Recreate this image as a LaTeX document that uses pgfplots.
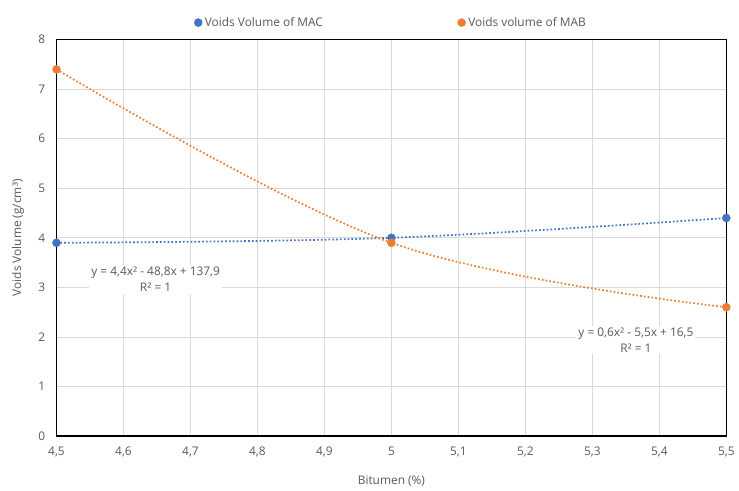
\documentclass[border=0pt]{standalone}
\usepackage{pgfplots}
\pgfplotsset{compat=1.18}
\usepackage{fontspec}
\setmainfont{Open Sans}
\definecolor{macblue}{HTML}{4472C4}
\definecolor{maborange}{HTML}{ED7D31}
\definecolor{txtgray}{HTML}{595959}
\definecolor{gridgray}{HTML}{D9D9D9}
\begin{document}
\begin{tikzpicture}[x=1pt,y=1pt]
% invisible frame to fix the canvas size (739x495 px at 0.75pt/px)
\path (-42.75,-41.25) rectangle (511.5,330);
\begin{axis}[
  at={(0,0)}, anchor=south west,
  scale only axis,
  width=507pt, height=300pt,
  xmin=4.5, xmax=5.5, ymin=0, ymax=8,
  xtick distance=0.1, ytick distance=1,
  grid=major,
  major grid style={gridgray, line width=0.6pt},
  axis line style={black, line width=0.8pt},
  tick style={draw=none},
  ticklabel style={font=\fontsize{9}{11}\selectfont, text=txtgray},
  xticklabel style={yshift=-5pt},
  yticklabel style={xshift=-5pt},
  /pgf/number format/.cd, use comma, fixed, precision=1, assume math mode=true,
  /pgfplots/.cd,
  xlabel={Bitumen (\%)},
  ylabel={Voids Volume (g/cm³)},
  label style={font=\fontsize{9}{11}\selectfont, text=txtgray},
  xlabel style={yshift=-7pt},
  ylabel style={yshift=4pt},
  legend style={at={(0.5,1.015)}, anchor=south, draw=none, fill=none,
    legend columns=2, font=\fontsize{9}{11}\selectfont, text=txtgray,
    /tikz/every even column/.append style={column sep=100pt}},
  legend cell align=left,
  clip=false,
]
% trendlines (dotted, through the data)
\addplot[forget plot, macblue, dash pattern=on 1.3pt off 1.6pt, line width=1.3pt, smooth, tension=0.6]
  coordinates {(4.5,3.9) (5,4.0) (5.5,4.4)};
\addplot[forget plot, maborange, dash pattern=on 1.3pt off 1.6pt, line width=1.3pt, smooth, tension=0.6]
  coordinates {(4.5,7.4) (5,3.9) (5.5,2.6)};
% data points
\addplot[only marks, mark=*, mark size=3pt, color=macblue]
  coordinates {(4.5,3.9) (5,4.0) (5.5,4.4)};
\addlegendentry{Voids Volume of MAC}
\addplot[only marks, mark=*, mark size=3pt, color=maborange]
  coordinates {(4.5,7.4) (5,3.9) (5.5,2.6)};
\addlegendentry{Voids volume of MAB}
% trendline equations
\node[fill=white, inner sep=1.5pt, align=center, text=txtgray,
  font=\fontsize{9}{12}\selectfont] at (axis cs:4.648,3.16)
  {y = 4,4x² - 48,8x + 137,9\\R² = 1};
\node[fill=white, inner sep=1.5pt, align=center, text=txtgray,
  font=\fontsize{9}{12}\selectfont] at (axis cs:5.365,1.94)
  {y = 0,6x² - 5,5x + 16,5\\R² = 1};
\end{axis}
\end{tikzpicture}
\end{document}
